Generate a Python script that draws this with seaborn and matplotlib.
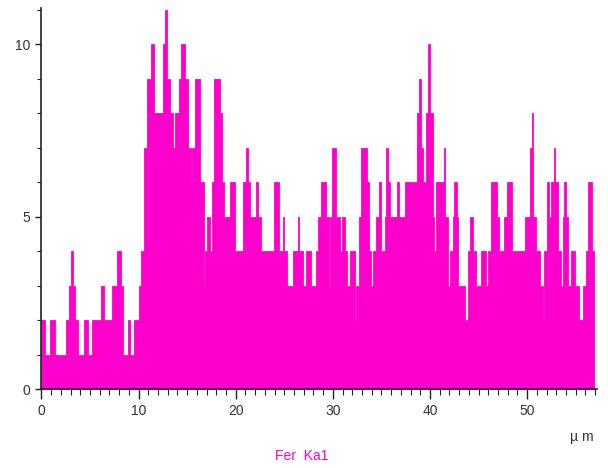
import matplotlib
matplotlib.use("Agg")
import matplotlib.pyplot as plt
import numpy as np
import pandas as pd
import seaborn as sns
from matplotlib.ticker import MultipleLocator

# Segment start positions (µm) and counts of the Fe Ka1 line scan
seg_start = [
    0.0, 0.33, 0.84, 1.35, 2.55, 2.8, 3.0, 3.24, 3.48, 3.75, 4.34, 4.78, 5.2, 6.16, 6.4, 7.25,
    7.8, 8.14, 8.38, 8.9, 9.07, 9.52, 10.0, 10.27, 10.54, 10.89, 11.3, 11.54, 12.5, 12.67,
    12.91, 13.25, 13.53, 13.77, 14.15, 14.32, 14.73, 15.07, 15.35, 15.48, 15.76, 16.37,
    16.72, 16.85, 17.06, 17.3, 17.54, 17.81, 18.33, 18.57, 18.84, 19.36, 19.46, 19.94,
    20.73, 21.07, 21.31, 21.52, 22.1, 22.34, 22.62, 23.99, 24.5, 24.84, 25.02, 25.29,
    25.87, 26.39, 26.56, 26.9, 27.24, 27.79, 28.24, 28.48, 28.82, 29.27, 29.61, 29.75,
    29.95, 30.36, 30.71, 30.95, 31.22, 31.5, 31.74, 32.25, 32.42, 32.66, 32.9, 33.52,
    33.72, 33.96, 34.14, 34.48, 34.72, 34.99, 35.34, 35.51, 35.68, 35.92, 36.6, 36.81,
    37.39, 38.66, 38.83, 39.04, 39.3, 39.55, 39.79, 40.03, 40.3, 40.45, 40.6, 41.41,
    41.54, 41.82, 42.06, 42.33, 42.5, 42.74, 42.92, 43.6, 43.95, 44.15, 44.39, 44.73,
    45.25, 45.76, 46.0, 46.28, 46.89, 47.13, 47.65, 47.89, 48.4, 49.78, 50.32, 50.46,
    50.63, 50.91, 51.35, 51.59, 51.76, 52.04, 52.21, 52.45, 52.72, 52.9, 53.14, 53.48,
    53.65, 53.82, 53.99, 54.23, 54.51, 54.92, 55.36, 55.71, 56.05, 56.29, 56.63,
]
seg_end = 56.92
counts = [
    2, 1, 2, 1, 2, 3, 4, 3, 2, 1, 2, 1, 2, 3, 2, 3,
    4, 3, 1, 2, 1, 2, 3, 4, 7, 9, 10, 8, 10, 11,
    9, 8, 7, 8, 9, 10, 9, 7, 6, 7, 9, 6,
    3, 4, 5, 4, 6, 9, 8, 6, 5, 4, 6, 4,
    6, 7, 6, 5, 6, 5, 4, 6, 4, 5, 4, 3,
    4, 5, 4, 3, 4, 3, 4, 5, 6, 5, 3, 5,
    7, 5, 4, 5, 4, 3, 4, 2, 3, 5, 7, 6,
    4, 3, 4, 5, 6, 4, 5, 7, 6, 5, 6, 5,
    6, 8, 9, 7, 6, 8, 10, 8, 5, 4, 6, 7,
    5, 3, 4, 5, 6, 5, 3, 2, 4, 5, 4, 3,
    4, 3, 4, 6, 5, 4, 5, 6, 4, 5, 7, 8,
    5, 4, 3, 2, 4, 6, 5, 6, 7, 6, 4, 3,
    5, 6, 5, 3, 4, 3, 2, 3, 4, 6, 4,
]
x_ticks = [0, 10, 20, 30, 40, 50]
y_ticks = [0, 5, 10]
series_label = "Fer  Ka1"
unit_label = "µ m"

edges = [float(e) for e in seg_start] + [seg_end]
centers = [(a + b) / 2 for a, b in zip(edges[:-1], edges[1:])]
df = pd.DataFrame({"pos": centers, "count": counts})

sns.set_style("white")
plt.rcParams["font.family"] = ["Liberation Sans", "DejaVu Sans"]

color = "#FF00CC"
fig = plt.figure(figsize=(6.08, 4.68), dpi=100)
ax = fig.add_axes([0.0674, 0.1688, 0.9146, 0.8142])

sns.histplot(data=df, x="pos", weights="count", bins=edges, element="step",
             fill=True, color=color, alpha=1.0, linewidth=0.6, edgecolor=color, ax=ax)

ax.set_xlim(-0.05, 57.2)
ax.set_ylim(0, 11.05)
ax.set_xticks(x_ticks)
ax.set_yticks(y_ticks)
ax.xaxis.set_minor_locator(MultipleLocator(1))
ax.yaxis.set_minor_locator(MultipleLocator(1))
ax.tick_params(axis="x", which="major", length=7, width=1, color="#222222",
               labelsize=10, labelcolor="#333333", direction="out", bottom=True)
ax.tick_params(axis="x", which="minor", length=4, width=0.8, color="#222222",
               direction="out", bottom=True)
ax.tick_params(axis="y", which="major", length=4, width=1, color="#222222",
               labelsize=10, labelcolor="#333333", direction="out", left=True)
ax.tick_params(axis="y", which="minor", length=3, width=0.8, color="#222222",
               direction="out", left=True)
ax.set_xlabel("")
ax.set_ylabel("")
for s in ["top", "right"]:
    ax.spines[s].set_visible(False)
for s in ["left", "bottom"]:
    ax.spines[s].set_color("#222222")
    ax.spines[s].set_linewidth(1.2)

fig.text(582 / 608, 1 - 437 / 468, unit_label, ha="center", va="center",
         fontsize=10, color="#333333")
fig.text(302 / 608, 1 - 456 / 468, series_label, ha="center", va="center",
         fontsize=10, color=color)

fig.savefig("out.png", dpi=100)
